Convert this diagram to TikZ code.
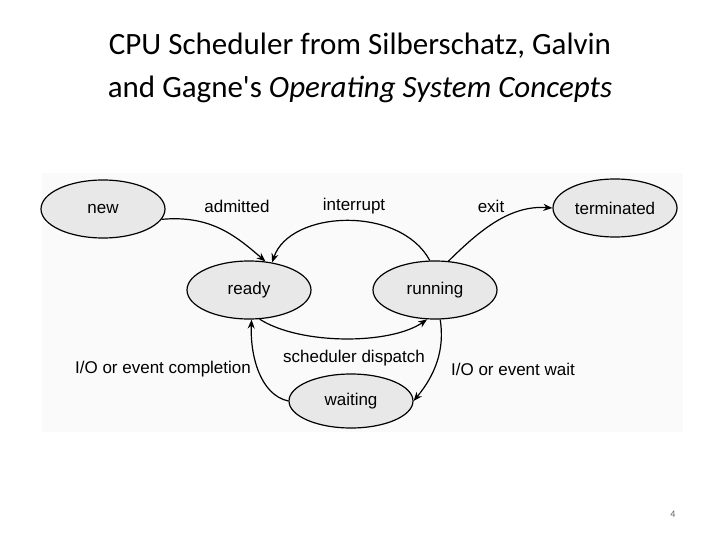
\documentclass[tikz,border=0pt]{standalone}
\usepackage{fontspec}
\setmainfont{Liberation Sans}
\newfontfamily\titlefont{Carlito}
\usetikzlibrary{shapes.geometric,arrows.meta}
\begin{document}
\begin{tikzpicture}[x=1pt,y=-1pt,
  st/.style={ellipse,draw=black,line width=1.2pt,fill=black!9,minimum width=124pt,minimum height=58pt,font=\fontsize{17}{19}\selectfont},
  ar/.style={line width=1.2pt,-{Stealth[length=9pt,width=7pt]}},
  lb/.style={font=\fontsize{17}{19}\selectfont}]
\useasboundingbox[fill=white] (0,0) rectangle (720,540);
\fill[black!2] (42,173) rectangle (683,432);
\node[font=\titlefont\fontsize{31}{43}\selectfont,align=center] (title) at (360,68) {CPU Scheduler from Silberschatz, Galvin\\and Gagne's \textit{Operating System Concepts}};
\node[st] (new) at (103,209) {new};
\node[st] (term) at (615,208) {terminated};
\node[st] (ready) at (249,290) {ready};
\node[st] (run) at (435,290) {running};
\node[st,minimum height=54pt] (wait) at (351,401) {waiting};
\draw[ar] (new.-10) .. controls (210,215) and (235,235) .. (ready.60);
\draw[ar] (run.100) .. controls (400,205) and (290,210) .. (ready.50);
\draw[ar] (run.65) .. controls (480,230) and (510,205) .. (term.west);
\draw[ar] (ready.-70) .. controls (300,345) and (390,345) .. (run.-105);
\draw[ar] (run.-80) .. controls (445,350) and (435,375) .. (wait.east);
\draw[ar] (wait.west) .. controls (260,395) and (250,355) .. (ready.-85);
\node[lb] (l1) at (237,206) {admitted};
\node[lb] (l2) at (354,206) {interrupt};
\node[lb] (l3) at (491,206) {exit};
\node[lb] (l4) at (354,358) {scheduler dispatch};
\node[lb] (l5) at (513,369) {I/O or event wait};
\node[lb] (l6) at (163,369) {I/O or event completion};
\node[font=\titlefont\fontsize{10}{12}\selectfont,text=black!60] (pg) at (673,514) {4};
\end{tikzpicture}
\end{document}
